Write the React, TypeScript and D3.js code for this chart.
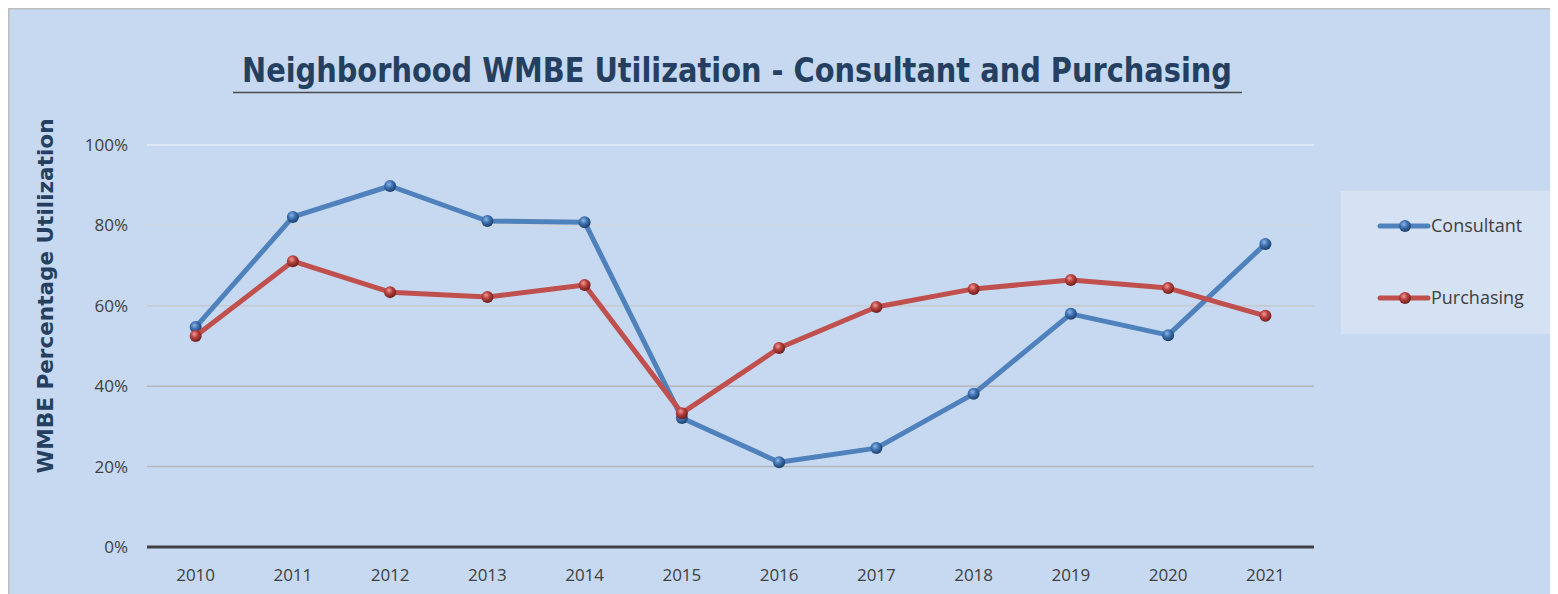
import React from "react";
import * as d3 from "d3";

const years = ["2010","2011","2012","2013","2014","2015","2016","2017","2018","2019","2020","2021"];
const consultant = [54.7, 82.1, 89.8, 81.1, 80.8, 32.1, 21.1, 24.6, 38.1, 58.0, 52.7, 75.4];
const purchasing = [52.5, 71.1, 63.4, 62.2, 65.2, 33.3, 49.5, 59.7, 64.2, 66.4, 64.4, 57.5];
const yTicks = [0, 20, 40, 60, 80, 100];
const seriesNames = ["Consultant", "Purchasing"];

const W = 1550, H = 586; // svg placed at body margin (8,8)
const OX = 8, OY = 8;

export default function App() {
  const x = d3.scaleBand<string>().domain(years).range([147 - OX, 1314 - OX]);
  const y = d3.scaleLinear().domain([0, 100]).range([547 - OY, 145 - OY]);
  const cx = (d: string) => (x(d) as number) + x.bandwidth() / 2;
  const line = d3.line<number>().x((_, i) => cx(years[i])).y((v) => y(v));
  const series = [
    { name: seriesNames[0], values: consultant, color: "#4F81BD", grad: "gBlue" },
    { name: seriesNames[1], values: purchasing, color: "#C0504D", grad: "gRed" },
  ];
  const gridColor = (t: number) => (t === 100 ? "#E6EDF7" : t === 80 ? "#D3D6DB" : t === 60 ? "#C6C9CE" : "#B3B6BB");
  const font = "'Open Sans', 'Liberation Sans', sans-serif";
  const titleFont = "'DejaVu Sans', Verdana, sans-serif";
  return (
    <svg width={W} height={H} style={{ display: "block" }}>
      <defs>
        <radialGradient id="gBlue" cx="40%" cy="35%" r="65%">
          <stop offset="0%" stopColor="#8FB6E6" />
          <stop offset="45%" stopColor="#3F73B3" />
          <stop offset="100%" stopColor="#1E3F6A" />
        </radialGradient>
        <radialGradient id="gRed" cx="40%" cy="35%" r="65%">
          <stop offset="0%" stopColor="#EE9C9A" />
          <stop offset="45%" stopColor="#B8423F" />
          <stop offset="100%" stopColor="#6E1F1D" />
        </radialGradient>
      </defs>
      <rect x={0} y={0} width={W} height={H} fill="#C6D9F0" />
      <line x1={0} y1={0.5} x2={W} y2={0.5} stroke="#BDBDBD" strokeWidth={2} />
      <line x1={0.5} y1={0} x2={0.5} y2={H} stroke="#BDBDBD" strokeWidth={2} />

      <text x={737 - OX} y={82 - OY} textAnchor="middle" fontFamily={titleFont} fontWeight="bold"
        fontSize={33} fill="#243F60" textLength={990} lengthAdjust="spacingAndGlyphs">
        Neighborhood WMBE Utilization - Consultant and Purchasing
      </text>
      <line x1={233 - OX} y1={92.5 - OY} x2={1242 - OX} y2={92.5 - OY} stroke="#4A4A4A" strokeWidth={1.5} />

      <text transform={`translate(${53 - OX},${296 - OY}) rotate(-90)`} textAnchor="middle"
        fontFamily={titleFont} fontWeight="bold" fontSize={21.5} fill="#243F60"
        textLength={355} lengthAdjust="spacingAndGlyphs">
        WMBE Percentage Utilization
      </text>

      {yTicks.map((t) => (
        <g key={t}>
          {t > 0 && (
            <line x1={147 - OX} x2={1314 - OX} y1={y(t)} y2={y(t)} stroke={gridColor(t)} strokeWidth={1.5} />
          )}
          <text x={128 - OX} y={y(t) + 6} textAnchor="end" fontFamily={font} fontSize={17} fill="#404040">
            {t}%
          </text>
        </g>
      ))}
      <line x1={147 - OX} x2={1314 - OX} y1={y(0)} y2={y(0)} stroke="#404040" strokeWidth={3} />

      {years.map((yr) => (
        <text key={yr} x={cx(yr)} y={581 - OY} textAnchor="middle" fontFamily={font} fontSize={17} fill="#404040">
          {yr}
        </text>
      ))}

      {series.map((s) => (
        <g key={s.name}>
          <path d={line(s.values) as string} fill="none" stroke={s.color} strokeWidth={5} strokeLinejoin="round" />
          {s.values.map((v, i) => (
            <circle key={i} cx={cx(years[i])} cy={y(v)} r={6} fill={`url(#${s.grad})`} />
          ))}
        </g>
      ))}

      <rect x={1341 - OX} y={191 - OY} width={215} height={143} fill="#D5E2F3" />
      {series.map((s, i) => {
        const ly = (i === 0 ? 226 : 298) - OY;
        return (
          <g key={s.name}>
            <line x1={1380 - OX} x2={1428 - OX} y1={ly} y2={ly} stroke={s.color} strokeWidth={5} strokeLinecap="round" />
            <circle cx={1405 - OX} cy={ly} r={6} fill={`url(#${s.grad})`} />
            <text x={1431 - OX} y={ly + 6} fontFamily={font} fontSize={18} fill="#404040">{s.name}</text>
          </g>
        );
      })}
    </svg>
  );
}
